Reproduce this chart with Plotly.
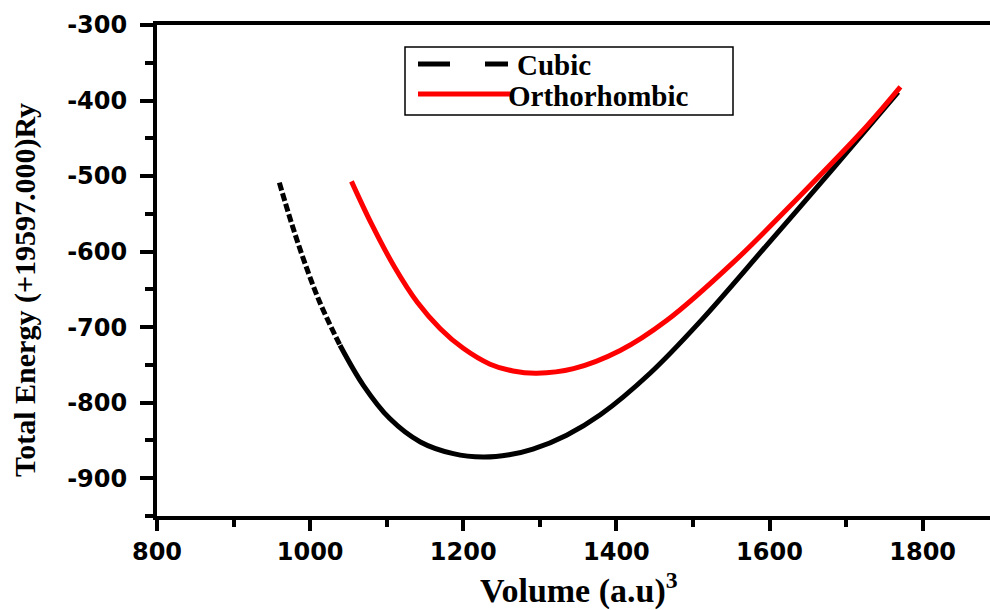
import plotly.graph_objects as go

# ---- data ----
cubic_v = [959.8, 975, 992, 1013, 1039, 1069.5, 1104, 1144, 1187, 1226, 1260, 1291, 1335, 1379, 1444, 1509, 1596, 1683, 1768]
cubic_e = [-508.7, -560, -612, -668, -724, -777, -821, -852, -867.5, -872, -869, -861.5, -843, -816, -761, -693, -592, -490, -389]
ortho_v = [1054, 1080, 1110, 1140, 1170, 1200, 1235, 1265, 1296, 1344, 1405, 1466, 1553, 1640, 1727, 1771]
ortho_e = [-507, -563, -620, -667, -702, -728, -749, -758, -761, -755, -731, -691, -614, -526, -434, -382]
dash_until = 1039  # cubic curve is drawn dashed up to this volume

x_ticks = [800, 1000, 1200, 1400, 1600, 1800]
y_ticks = [-300, -400, -500, -600, -700, -800, -900]

series_names = ["Cubic", "Orthorhombic"]

n_dash = len([v for v in cubic_v if v <= dash_until])
cd_v, cd_e = cubic_v[:n_dash], cubic_e[:n_dash]
cs_v, cs_e = cubic_v[n_dash - 1:], cubic_e[n_dash - 1:]

fig = go.Figure()
fig.add_trace(go.Scatter(x=cd_v, y=cd_e, mode="lines",
                         line=dict(color="black", width=5, dash="8px,3px", shape="spline", smoothing=1.0),
                         name=series_names[0], showlegend=False))
fig.add_trace(go.Scatter(x=cs_v, y=cs_e, mode="lines",
                         line=dict(color="black", width=5, shape="spline", smoothing=1.0),
                         name=series_names[0], showlegend=False))
fig.add_trace(go.Scatter(x=ortho_v, y=ortho_e, mode="lines",
                         line=dict(color="#ff0000", width=5, shape="spline", smoothing=1.0),
                         name=series_names[1], showlegend=False))

W, H = 990, 610
L, R, T, B = 157, 0, 25, 94
pw, ph = W - L - R, H - T - B


def px(x):
    return (x - L) / pw


def py(y):
    return (H - B - y) / ph


tickfont = dict(family="DejaVu Sans", size=24, color="black", weight="bold")

fig.update_xaxes(range=[800, 1888], tickvals=x_ticks, ticktext=[str(t) for t in x_ticks],
                 showline=True, linewidth=4, linecolor="black", mirror=True,
                 ticks="outside", ticklen=11, tickwidth=4, tickcolor="black",
                 minor=dict(dtick=100, tick0=800, ticks="outside", ticklen=7, tickwidth=4, tickcolor="black"),
                 showgrid=False, zeroline=False, tickfont=tickfont)
fig.update_yaxes(range=[-950, -300], tickvals=y_ticks, ticktext=[str(t) for t in y_ticks],
                 showline=True, linewidth=4, linecolor="black", mirror=False,
                 ticks="outside", ticklen=13, tickwidth=4, tickcolor="black",
                 minor=dict(dtick=50, tick0=-300, ticks="outside", ticklen=8, tickwidth=4, tickcolor="black"),
                 showgrid=False, zeroline=False, tickfont=tickfont, ticklabelstandoff=8)

serif = "Liberation Serif"
shapes = [
    dict(type="rect", xref="paper", yref="paper", x0=px(405), x1=px(733), y0=py(115), y1=py(47),
         line=dict(color="black", width=1.5), fillcolor="white", layer="above"),
    dict(type="line", xref="paper", yref="paper", x0=px(418), x1=px(450), y0=py(64), y1=py(64),
         line=dict(color="black", width=5)),
    dict(type="line", xref="paper", yref="paper", x0=px(485), x1=px(508), y0=py(64), y1=py(64),
         line=dict(color="black", width=5)),
    dict(type="line", xref="paper", yref="paper", x0=px(418), x1=px(510), y0=py(94), y1=py(94),
         line=dict(color="#ff0000", width=5)),
]
annotations = [
    dict(text="<b>" + series_names[0] + "</b>", xref="paper", yref="paper", x=px(515), y=py(65),
         xanchor="left", yanchor="middle", showarrow=False, font=dict(family=serif, size=29, color="black")),
    dict(text="<b>" + series_names[1] + "</b>", xref="paper", yref="paper", x=px(506), y=py(96),
         xanchor="left", yanchor="middle", showarrow=False, font=dict(family=serif, size=29, color="black")),
    dict(text="<b>Volume (a.u)<sup>3</sup></b>", xref="paper", yref="paper", x=px(579), y=py(588),
         xanchor="center", yanchor="middle", showarrow=False, font=dict(family=serif, size=34, color="black")),
    dict(text="<b>Total Energy (+19597.000)Ry</b>", xref="paper", yref="paper", x=px(25), y=py(290),
         xanchor="center", yanchor="middle", textangle=-90, showarrow=False,
         font=dict(family=serif, size=30, color="black")),
]

fig.update_layout(width=W, height=H, margin=dict(l=L, r=R, t=T, b=B, pad=0),
                  paper_bgcolor="white", plot_bgcolor="white",
                  shapes=shapes, annotations=annotations, showlegend=False)

fig.write_html("out.html")
